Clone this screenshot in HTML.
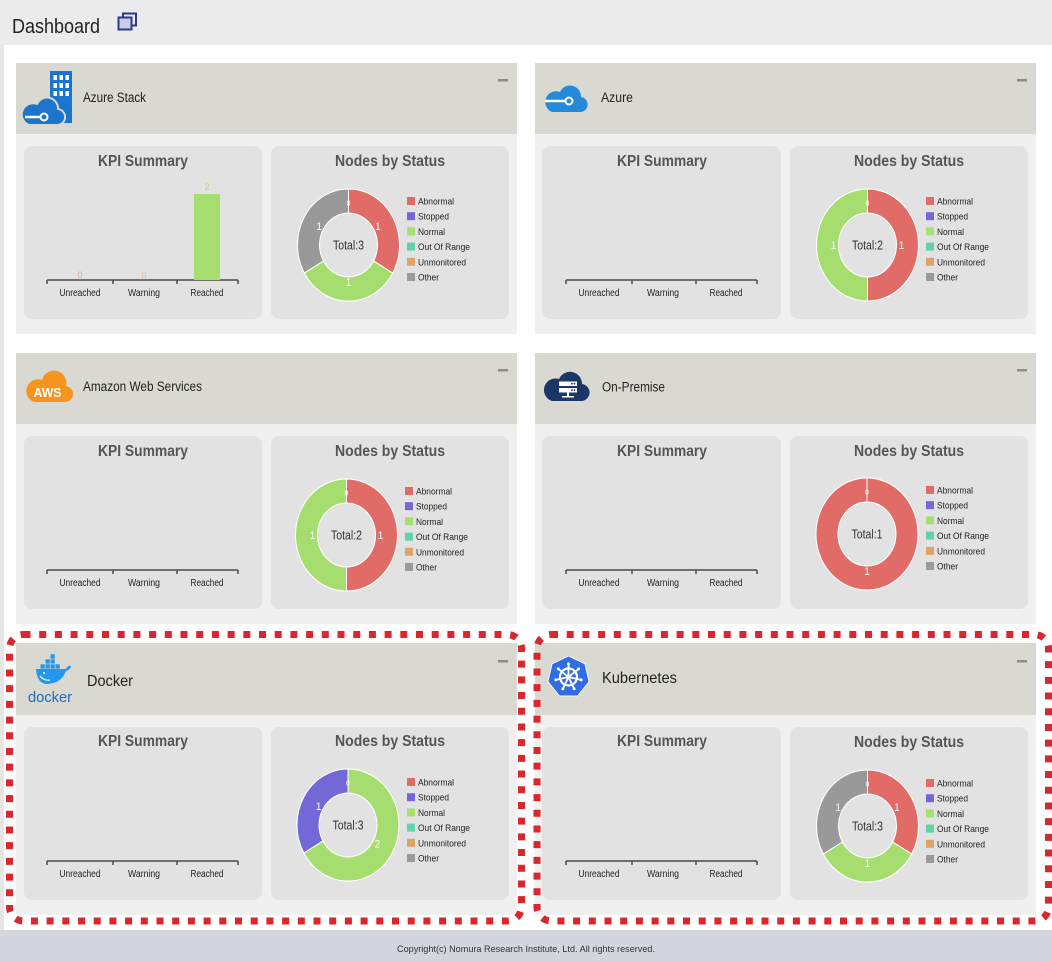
<!DOCTYPE html>
<html><head><meta charset="utf-8"><style>
html,body{margin:0;padding:0;background:#fff;width:1052px;height:962px;overflow:hidden}
svg{display:block}
text{font-family:"Liberation Sans",Arial,sans-serif}
</style></head><body>
<svg width="1052" height="962" viewBox="0 0 1052 962" xmlns="http://www.w3.org/2000/svg">
<rect x="0" y="0" width="1052" height="962" fill="#fff"/>
<!-- top bar -->
<rect x="0" y="0" width="1052" height="45" fill="#ebebeb"/>
<rect x="0" y="45" width="4" height="885" fill="#e6e6e6"/>
<text x="12" y="33" font-size="20" fill="#222" textLength="88" lengthAdjust="spacingAndGlyphs">Dashboard</text>
<rect x="123" y="13.5" width="13" height="12" fill="none" stroke="#2a3990" stroke-width="2"/>
<rect x="118.5" y="17.5" width="13" height="12" fill="#c9cde6" stroke="#2a3990" stroke-width="2"/>

<!-- ================= P1 Azure Stack ================= -->
<g>
<rect x="16" y="63" width="501" height="71" fill="#d9d9d1"/>
<rect x="16" y="134" width="501" height="200" fill="#f0f0f0"/>
<rect x="498" y="79" width="10" height="2.5" fill="#8e8e7e"/>
<rect x="24" y="146" width="238" height="173" rx="8" fill="#e2e2e2"/>
<rect x="271" y="146" width="238" height="173" rx="8" fill="#e2e2e2"/>
<text x="143" y="166" text-anchor="middle" font-size="16" font-weight="bold" fill="#555" textLength="90" lengthAdjust="spacingAndGlyphs">KPI Summary</text>
<text x="390" y="166" text-anchor="middle" font-size="16" font-weight="bold" fill="#555" textLength="110" lengthAdjust="spacingAndGlyphs">Nodes by Status</text>
<path d="M47 280H238M47 280v4M113 280v4M177 280v4M238 280v4" stroke="#4a4a4a" stroke-width="1.5" fill="none"/>
<g font-size="10" fill="#222" text-anchor="middle">
<text x="80" y="296" textLength="41" lengthAdjust="spacingAndGlyphs">Unreached</text>
<text x="144" y="296" textLength="32" lengthAdjust="spacingAndGlyphs">Warning</text>
<text x="207" y="296" textLength="33" lengthAdjust="spacingAndGlyphs">Reached</text>
</g>
<rect x="194" y="194" width="26" height="86" fill="#a6dd6f"/>
<text x="207" y="190" font-size="9" fill="#a6dd6f" text-anchor="middle">2</text>
<text x="80" y="278" font-size="9" fill="#e89a90" text-anchor="middle">0</text>
<text x="144" y="278" font-size="9" fill="#f0c08a" text-anchor="middle">0</text>
<g font-size="9.5" fill="#222">
<rect x="407" y="197" width="8" height="8" fill="#e06b67"/><text x="418" y="204.5" textLength="36" lengthAdjust="spacingAndGlyphs">Abnormal</text>
<rect x="407" y="212.2" width="8" height="8" fill="#7468d9"/><text x="418" y="219.7" textLength="31" lengthAdjust="spacingAndGlyphs">Stopped</text>
<rect x="407" y="227.4" width="8" height="8" fill="#a7df72"/><text x="418" y="234.9" textLength="27" lengthAdjust="spacingAndGlyphs">Normal</text>
<rect x="407" y="242.6" width="8" height="8" fill="#62d2a8"/><text x="418" y="250.1" textLength="52" lengthAdjust="spacingAndGlyphs">Out Of Range</text>
<rect x="407" y="257.8" width="8" height="8" fill="#dca466"/><text x="418" y="265.3" textLength="48" lengthAdjust="spacingAndGlyphs">Unmonitored</text>
<rect x="407" y="273" width="8" height="8" fill="#9a9a9a"/><text x="418" y="280.5" textLength="21" lengthAdjust="spacingAndGlyphs">Other</text>
</g>
<g transform="translate(348.5 245) scale(1 1.1)">
<g stroke="#fff" stroke-width="1">
<path d="M0,-51A51,51 0 0 1 44.17,25.5L25.11,14.5A29,29 0 0 0 0,-29Z" fill="#e06b67"/>
<path d="M44.17,25.5A51,51 0 0 1 -44.17,25.5L-25.11,14.5A29,29 0 0 0 25.11,14.5Z" fill="#a6dd6f"/>
<path d="M-44.17,25.5A51,51 0 0 1 0,-51L0,-29A29,29 0 0 0 -25.11,14.5Z" fill="#999"/>
</g>
<g font-size="10" fill="#fff" text-anchor="middle">
<text x="29.4" y="-13.5">1</text><text x="0" y="37.5">1</text><text x="-29.4" y="-13.5">1</text>
<text x="0" y="-36" font-size="7">0</text>
</g>
<text x="0" y="4" font-size="12" fill="#333" text-anchor="middle" textLength="31" lengthAdjust="spacingAndGlyphs">Total:3</text>
</g>
<text x="83" y="102" font-size="13.5" fill="#222" textLength="63" lengthAdjust="spacingAndGlyphs">Azure Stack</text>
<rect x="50" y="71" width="22" height="52" fill="#1b75cc"/>
<g fill="#fff">
<rect x="53.5" y="75" width="3.5" height="5"/><rect x="59.5" y="75" width="3.5" height="5"/><rect x="65.5" y="75" width="3.5" height="5"/>
<rect x="53.5" y="83" width="3.5" height="5"/><rect x="59.5" y="83" width="3.5" height="5"/><rect x="65.5" y="83" width="3.5" height="5"/>
<rect x="53.5" y="91" width="3.5" height="5"/><rect x="59.5" y="91" width="3.5" height="5"/><rect x="65.5" y="91" width="3.5" height="5"/>
</g>
<path d="M29,125H56A8,8 0 0 0 58,109A11,11 0 0 0 37,104A9,9 0 0 0 29,125Z" fill="#1b75cc" stroke="#d9d9d1" stroke-width="2"/>
<path d="M25,117H40" stroke="#fff" stroke-width="2.5"/>
<circle cx="44" cy="117" r="3.5" fill="#1b75cc" stroke="#fff" stroke-width="2"/>
</g>

<!-- ================= P2 Azure ================= -->
<g transform="translate(519 0)">
<rect x="16" y="63" width="501" height="71" fill="#d9d9d1"/>
<rect x="16" y="134" width="501" height="200" fill="#f0f0f0"/>
<rect x="498" y="79" width="10" height="2.5" fill="#8e8e7e"/>
<rect x="23" y="146" width="239" height="173" rx="8" fill="#e2e2e2"/>
<rect x="271" y="146" width="238" height="173" rx="8" fill="#e2e2e2"/>
<text x="143" y="166" text-anchor="middle" font-size="16" font-weight="bold" fill="#555" textLength="90" lengthAdjust="spacingAndGlyphs">KPI Summary</text>
<text x="390" y="166" text-anchor="middle" font-size="16" font-weight="bold" fill="#555" textLength="110" lengthAdjust="spacingAndGlyphs">Nodes by Status</text>
<path d="M47 280H238M47 280v4M113 280v4M177 280v4M238 280v4" stroke="#4a4a4a" stroke-width="1.5" fill="none"/>
<g font-size="10" fill="#222" text-anchor="middle">
<text x="80" y="296" textLength="41" lengthAdjust="spacingAndGlyphs">Unreached</text>
<text x="144" y="296" textLength="32" lengthAdjust="spacingAndGlyphs">Warning</text>
<text x="207" y="296" textLength="33" lengthAdjust="spacingAndGlyphs">Reached</text>
</g>
<g font-size="9.5" fill="#222">
<rect x="407" y="197" width="8" height="8" fill="#e06b67"/><text x="418" y="204.5" textLength="36" lengthAdjust="spacingAndGlyphs">Abnormal</text>
<rect x="407" y="212.2" width="8" height="8" fill="#7468d9"/><text x="418" y="219.7" textLength="31" lengthAdjust="spacingAndGlyphs">Stopped</text>
<rect x="407" y="227.4" width="8" height="8" fill="#a7df72"/><text x="418" y="234.9" textLength="27" lengthAdjust="spacingAndGlyphs">Normal</text>
<rect x="407" y="242.6" width="8" height="8" fill="#62d2a8"/><text x="418" y="250.1" textLength="52" lengthAdjust="spacingAndGlyphs">Out Of Range</text>
<rect x="407" y="257.8" width="8" height="8" fill="#dca466"/><text x="418" y="265.3" textLength="48" lengthAdjust="spacingAndGlyphs">Unmonitored</text>
<rect x="407" y="273" width="8" height="8" fill="#9a9a9a"/><text x="418" y="280.5" textLength="21" lengthAdjust="spacingAndGlyphs">Other</text>
</g>
<g transform="translate(348.5 245) scale(1 1.1)">
<g stroke="#fff" stroke-width="1">
<path d="M0,-51A51,51 0 0 1 0,51L0,29A29,29 0 0 0 0,-29Z" fill="#e06b67"/>
<path d="M0,51A51,51 0 0 1 0,-51L0,-29A29,29 0 0 0 0,29Z" fill="#a6dd6f"/>
</g>
<g font-size="10" fill="#fff" text-anchor="middle">
<text x="34" y="3.5">1</text><text x="-34" y="3.5">1</text>
<text x="0" y="-36" font-size="7">0</text>
</g>
<text x="0" y="4" font-size="12" fill="#333" text-anchor="middle" textLength="31" lengthAdjust="spacingAndGlyphs">Total:2</text>
</g>
<text x="82" y="102" font-size="13.5" fill="#222" textLength="32" lengthAdjust="spacingAndGlyphs">Azure</text>
<path d="M33,112H60A7.5,7.5 0 0 0 62,97A11,11 0 0 0 41,92A8,8 0 0 0 33,112Z" fill="#2389d8"/>
<path d="M26,101H46" stroke="#fff" stroke-width="2.5"/>
<circle cx="50" cy="101" r="3.5" fill="#2389d8" stroke="#fff" stroke-width="2"/>
</g>

<!-- ================= P3 AWS ================= -->
<g transform="translate(0 290)">
<rect x="16" y="63" width="501" height="71" fill="#d9d9d1"/>
<rect x="16" y="134" width="501" height="200" fill="#f0f0f0"/>
<rect x="498" y="79" width="10" height="2.5" fill="#8e8e7e"/>
<rect x="24" y="146" width="238" height="173" rx="8" fill="#e2e2e2"/>
<rect x="271" y="146" width="238" height="173" rx="8" fill="#e2e2e2"/>
<text x="143" y="166" text-anchor="middle" font-size="16" font-weight="bold" fill="#555" textLength="90" lengthAdjust="spacingAndGlyphs">KPI Summary</text>
<text x="390" y="166" text-anchor="middle" font-size="16" font-weight="bold" fill="#555" textLength="110" lengthAdjust="spacingAndGlyphs">Nodes by Status</text>
<path d="M47 280H238M47 280v4M113 280v4M177 280v4M238 280v4" stroke="#4a4a4a" stroke-width="1.5" fill="none"/>
<g font-size="10" fill="#222" text-anchor="middle">
<text x="80" y="296" textLength="41" lengthAdjust="spacingAndGlyphs">Unreached</text>
<text x="144" y="296" textLength="32" lengthAdjust="spacingAndGlyphs">Warning</text>
<text x="207" y="296" textLength="33" lengthAdjust="spacingAndGlyphs">Reached</text>
</g>
<g font-size="9.5" fill="#222">
<rect x="405" y="197" width="8" height="8" fill="#e06b67"/><text x="416" y="204.5" textLength="36" lengthAdjust="spacingAndGlyphs">Abnormal</text>
<rect x="405" y="212.2" width="8" height="8" fill="#7468d9"/><text x="416" y="219.7" textLength="31" lengthAdjust="spacingAndGlyphs">Stopped</text>
<rect x="405" y="227.4" width="8" height="8" fill="#a7df72"/><text x="416" y="234.9" textLength="27" lengthAdjust="spacingAndGlyphs">Normal</text>
<rect x="405" y="242.6" width="8" height="8" fill="#62d2a8"/><text x="416" y="250.1" textLength="52" lengthAdjust="spacingAndGlyphs">Out Of Range</text>
<rect x="405" y="257.8" width="8" height="8" fill="#dca466"/><text x="416" y="265.3" textLength="48" lengthAdjust="spacingAndGlyphs">Unmonitored</text>
<rect x="405" y="273" width="8" height="8" fill="#9a9a9a"/><text x="416" y="280.5" textLength="21" lengthAdjust="spacingAndGlyphs">Other</text>
</g>
<g transform="translate(346.5 245) scale(1 1.1)">
<g stroke="#fff" stroke-width="1">
<path d="M0,-51A51,51 0 0 1 0,51L0,29A29,29 0 0 0 0,-29Z" fill="#e06b67"/>
<path d="M0,51A51,51 0 0 1 0,-51L0,-29A29,29 0 0 0 0,29Z" fill="#a6dd6f"/>
</g>
<g font-size="10" fill="#fff" text-anchor="middle">
<text x="34" y="3.5">1</text><text x="-34" y="3.5">1</text>
<text x="0" y="-36" font-size="7">0</text>
</g>
<text x="0" y="4" font-size="12" fill="#333" text-anchor="middle" textLength="31" lengthAdjust="spacingAndGlyphs">Total:2</text>
</g>
<text x="83" y="101" font-size="13.5" fill="#222" textLength="119" lengthAdjust="spacingAndGlyphs">Amazon Web Services</text>
<path d="M34,112H64A8,8 0 0 0 66,96A12,12 0 0 0 42,90A9,9 0 0 0 34,112Z" fill="#f7941d"/>
<text x="47.5" y="107" font-size="12.5" font-weight="bold" fill="#fff" text-anchor="middle" textLength="28" lengthAdjust="spacingAndGlyphs">AWS</text>
</g>

<!-- ================= P4 On-Premise ================= -->
<g transform="translate(519 290)">
<rect x="16" y="63" width="501" height="71" fill="#d9d9d1"/>
<rect x="16" y="134" width="501" height="200" fill="#f0f0f0"/>
<rect x="498" y="79" width="10" height="2.5" fill="#8e8e7e"/>
<rect x="23" y="146" width="239" height="173" rx="8" fill="#e2e2e2"/>
<rect x="271" y="146" width="238" height="173" rx="8" fill="#e2e2e2"/>
<text x="143" y="166" text-anchor="middle" font-size="16" font-weight="bold" fill="#555" textLength="90" lengthAdjust="spacingAndGlyphs">KPI Summary</text>
<text x="390" y="166" text-anchor="middle" font-size="16" font-weight="bold" fill="#555" textLength="110" lengthAdjust="spacingAndGlyphs">Nodes by Status</text>
<path d="M47 280H238M47 280v4M113 280v4M177 280v4M238 280v4" stroke="#4a4a4a" stroke-width="1.5" fill="none"/>
<g font-size="10" fill="#222" text-anchor="middle">
<text x="80" y="296" textLength="41" lengthAdjust="spacingAndGlyphs">Unreached</text>
<text x="144" y="296" textLength="32" lengthAdjust="spacingAndGlyphs">Warning</text>
<text x="207" y="296" textLength="33" lengthAdjust="spacingAndGlyphs">Reached</text>
</g>
<g font-size="9.5" fill="#222">
<rect x="407" y="196" width="8" height="8" fill="#e06b67"/><text x="418" y="203.5" textLength="36" lengthAdjust="spacingAndGlyphs">Abnormal</text>
<rect x="407" y="211.2" width="8" height="8" fill="#7468d9"/><text x="418" y="218.7" textLength="31" lengthAdjust="spacingAndGlyphs">Stopped</text>
<rect x="407" y="226.4" width="8" height="8" fill="#a7df72"/><text x="418" y="233.9" textLength="27" lengthAdjust="spacingAndGlyphs">Normal</text>
<rect x="407" y="241.6" width="8" height="8" fill="#62d2a8"/><text x="418" y="249.1" textLength="52" lengthAdjust="spacingAndGlyphs">Out Of Range</text>
<rect x="407" y="256.8" width="8" height="8" fill="#dca466"/><text x="418" y="264.3" textLength="48" lengthAdjust="spacingAndGlyphs">Unmonitored</text>
<rect x="407" y="272" width="8" height="8" fill="#9a9a9a"/><text x="418" y="279.5" textLength="21" lengthAdjust="spacingAndGlyphs">Other</text>
</g>
<g transform="translate(348 244) scale(1 1.1)">
<path d="M0,-51A51,51 0 1 1 0,51A51,51 0 1 1 0,-51ZM0,-29A29,29 0 1 0 0,29A29,29 0 1 0 0,-29Z" fill="#e06b67" fill-rule="evenodd" stroke="#fff" stroke-width="1"/>
<path d="M0,-51V-29" stroke="#fff" stroke-width="1"/>
<g font-size="10" fill="#fff" text-anchor="middle">
<text x="0" y="37.5">1</text>
<text x="0" y="-36" font-size="7">0</text>
</g>
<text x="0" y="4" font-size="12" fill="#333" text-anchor="middle" textLength="31" lengthAdjust="spacingAndGlyphs">Total:1</text>
</g>
<text x="83" y="101.5" font-size="13.5" fill="#222" textLength="63" lengthAdjust="spacingAndGlyphs">On-Premise</text>
<path d="M33,111H61A8.5,8.5 0 0 0 63,94A12,12 0 0 0 40,89A9,9 0 0 0 33,111Z" fill="#1b3768"/>
<rect x="40" y="91.5" width="18" height="4.5" fill="#fff"/>
<rect x="40" y="98" width="18" height="4.5" fill="#fff"/>
<circle cx="53" cy="93.7" r="0.9" fill="#1b3768"/><circle cx="55.5" cy="93.7" r="0.9" fill="#1b3768"/>
<circle cx="53" cy="100.2" r="0.9" fill="#1b3768"/><circle cx="55.5" cy="100.2" r="0.9" fill="#1b3768"/>
<rect x="48" y="102.5" width="2" height="4" fill="#fff"/>
<rect x="43" y="106" width="12" height="1.5" fill="#fff"/>
</g>

<!-- ================= P5 Docker ================= -->
<g transform="translate(0 581)">
<rect x="16" y="62" width="501" height="72" fill="#d9d9d1"/>
<rect x="16" y="134" width="501" height="200" fill="#f0f0f0"/>
<rect x="498" y="79" width="10" height="2.5" fill="#8e8e7e"/>
<rect x="24" y="146" width="238" height="173" rx="8" fill="#e2e2e2"/>
<rect x="271" y="146" width="238" height="173" rx="8" fill="#e2e2e2"/>
<text x="143" y="165" text-anchor="middle" font-size="16" font-weight="bold" fill="#555" textLength="90" lengthAdjust="spacingAndGlyphs">KPI Summary</text>
<text x="390" y="165" text-anchor="middle" font-size="16" font-weight="bold" fill="#555" textLength="110" lengthAdjust="spacingAndGlyphs">Nodes by Status</text>
<path d="M47 280H238M47 280v4M113 280v4M177 280v4M238 280v4" stroke="#4a4a4a" stroke-width="1.5" fill="none"/>
<g font-size="10" fill="#222" text-anchor="middle">
<text x="80" y="296" textLength="41" lengthAdjust="spacingAndGlyphs">Unreached</text>
<text x="144" y="296" textLength="32" lengthAdjust="spacingAndGlyphs">Warning</text>
<text x="207" y="296" textLength="33" lengthAdjust="spacingAndGlyphs">Reached</text>
</g>
<g font-size="9.5" fill="#222">
<rect x="407" y="197" width="8" height="8" fill="#e06b67"/><text x="418" y="204.5" textLength="36" lengthAdjust="spacingAndGlyphs">Abnormal</text>
<rect x="407" y="212.2" width="8" height="8" fill="#7468d9"/><text x="418" y="219.7" textLength="31" lengthAdjust="spacingAndGlyphs">Stopped</text>
<rect x="407" y="227.4" width="8" height="8" fill="#a7df72"/><text x="418" y="234.9" textLength="27" lengthAdjust="spacingAndGlyphs">Normal</text>
<rect x="407" y="242.6" width="8" height="8" fill="#62d2a8"/><text x="418" y="250.1" textLength="52" lengthAdjust="spacingAndGlyphs">Out Of Range</text>
<rect x="407" y="257.8" width="8" height="8" fill="#dca466"/><text x="418" y="265.3" textLength="48" lengthAdjust="spacingAndGlyphs">Unmonitored</text>
<rect x="407" y="273" width="8" height="8" fill="#9a9a9a"/><text x="418" y="280.5" textLength="21" lengthAdjust="spacingAndGlyphs">Other</text>
</g>
<g transform="translate(348 244) scale(1 1.1)">
<g stroke="#fff" stroke-width="1">
<path d="M0,-51A51,51 0 1 1 -44.17,25.5L-25.11,14.5A29,29 0 1 0 0,-29Z" fill="#a6dd6f"/>
<path d="M-44.17,25.5A51,51 0 0 1 0,-51L0,-29A29,29 0 0 0 -25.11,14.5Z" fill="#7468d9"/>
</g>
<g font-size="10" fill="#fff" text-anchor="middle">
<text x="29.4" y="20.5">2</text><text x="-29.4" y="-13.5">1</text>
<text x="0" y="-36" font-size="7">0</text>
</g>
<text x="0" y="4" font-size="12" fill="#333" text-anchor="middle" textLength="31" lengthAdjust="spacingAndGlyphs">Total:3</text>
</g>
<text x="87" y="105" font-size="16" fill="#222" textLength="46" lengthAdjust="spacingAndGlyphs">Docker</text>
<path d="M36,88H66Q68,84 71,85Q70,89 66,90Q61,103 46,103Q37,102 36,88Z" fill="#2496ed"/>
<g fill="#2496ed">
<rect x="40.5" y="83.3" width="4.3" height="4.3"/><rect x="45.5" y="83.3" width="4.3" height="4.3"/><rect x="50.5" y="83.3" width="4.3" height="4.3"/><rect x="55.5" y="83.3" width="4.3" height="4.3"/>
<rect x="45.5" y="78.3" width="4.3" height="4.3"/><rect x="50.5" y="78.3" width="4.3" height="4.3"/>
<rect x="50.5" y="73.3" width="4.3" height="4.3"/>
</g>
<path d="M40,95Q44,100 50,99" stroke="#fff" stroke-width="1.2" fill="none"/>
<circle cx="44" cy="92" r="1" fill="#fff"/>
<text x="28" y="121" font-size="15" fill="#1f6bbd" textLength="44" lengthAdjust="spacingAndGlyphs">docker</text>
</g>

<!-- ================= P6 Kubernetes ================= -->
<g transform="translate(519 581)">
<rect x="16" y="62" width="501" height="72" fill="#d9d9d1"/>
<rect x="16" y="134" width="501" height="200" fill="#f0f0f0"/>
<rect x="498" y="79" width="10" height="2.5" fill="#8e8e7e"/>
<rect x="23" y="146" width="239" height="173" rx="8" fill="#e2e2e2"/>
<rect x="271" y="146" width="238" height="173" rx="8" fill="#e2e2e2"/>
<text x="143" y="165" text-anchor="middle" font-size="16" font-weight="bold" fill="#555" textLength="90" lengthAdjust="spacingAndGlyphs">KPI Summary</text>
<text x="390" y="166" text-anchor="middle" font-size="16" font-weight="bold" fill="#555" textLength="110" lengthAdjust="spacingAndGlyphs">Nodes by Status</text>
<path d="M47 280H238M47 280v4M113 280v4M177 280v4M238 280v4" stroke="#4a4a4a" stroke-width="1.5" fill="none"/>
<g font-size="10" fill="#222" text-anchor="middle">
<text x="80" y="296" textLength="41" lengthAdjust="spacingAndGlyphs">Unreached</text>
<text x="144" y="296" textLength="32" lengthAdjust="spacingAndGlyphs">Warning</text>
<text x="207" y="296" textLength="33" lengthAdjust="spacingAndGlyphs">Reached</text>
</g>
<g font-size="9.5" fill="#222">
<rect x="407" y="198" width="8" height="8" fill="#e06b67"/><text x="418" y="205.5" textLength="36" lengthAdjust="spacingAndGlyphs">Abnormal</text>
<rect x="407" y="213.2" width="8" height="8" fill="#7468d9"/><text x="418" y="220.7" textLength="31" lengthAdjust="spacingAndGlyphs">Stopped</text>
<rect x="407" y="228.4" width="8" height="8" fill="#a7df72"/><text x="418" y="235.9" textLength="27" lengthAdjust="spacingAndGlyphs">Normal</text>
<rect x="407" y="243.6" width="8" height="8" fill="#62d2a8"/><text x="418" y="251.1" textLength="52" lengthAdjust="spacingAndGlyphs">Out Of Range</text>
<rect x="407" y="258.8" width="8" height="8" fill="#dca466"/><text x="418" y="266.3" textLength="48" lengthAdjust="spacingAndGlyphs">Unmonitored</text>
<rect x="407" y="274" width="8" height="8" fill="#9a9a9a"/><text x="418" y="281.5" textLength="21" lengthAdjust="spacingAndGlyphs">Other</text>
</g>
<g transform="translate(348.5 245) scale(1 1.1)">
<g stroke="#fff" stroke-width="1">
<path d="M0,-51A51,51 0 0 1 44.17,25.5L25.11,14.5A29,29 0 0 0 0,-29Z" fill="#e06b67"/>
<path d="M44.17,25.5A51,51 0 0 1 -44.17,25.5L-25.11,14.5A29,29 0 0 0 25.11,14.5Z" fill="#a6dd6f"/>
<path d="M-44.17,25.5A51,51 0 0 1 0,-51L0,-29A29,29 0 0 0 -25.11,14.5Z" fill="#999"/>
</g>
<g font-size="10" fill="#fff" text-anchor="middle">
<text x="29.4" y="-13.5">1</text><text x="0" y="37.5">1</text><text x="-29.4" y="-13.5">1</text>
<text x="0" y="-36" font-size="7">0</text>
</g>
<text x="0" y="4" font-size="12" fill="#333" text-anchor="middle" textLength="31" lengthAdjust="spacingAndGlyphs">Total:3</text>
</g>
<text x="83" y="102" font-size="16" fill="#222" textLength="75" lengthAdjust="spacingAndGlyphs">Kubernetes</text>
<g transform="translate(49.5 96)">
<path d="M0,-21L16.42,-13.09L20.47,4.67L9.11,18.92L-9.11,18.92L-20.47,4.67L-16.42,-13.09Z" fill="#326ce5" stroke="#fff" stroke-width="0.8" stroke-linejoin="round"/>
<circle cx="0" cy="0" r="8.5" fill="none" stroke="#fff" stroke-width="2.2"/>
<circle cx="0" cy="0" r="2.5" fill="#fff"/>
<path d="M0,0L0,-13M0,0L10.16,-8.1M0,0L12.67,2.89M0,0L5.64,11.71M0,0L-5.64,11.71M0,0L-12.67,2.89M0,0L-10.16,-8.1" stroke="#fff" stroke-width="1.8"/>
<g fill="#fff">
<circle cx="0" cy="-13" r="1.5"/><circle cx="10.16" cy="-8.1" r="1.5"/><circle cx="12.67" cy="2.89" r="1.5"/><circle cx="5.64" cy="11.71" r="1.5"/><circle cx="-5.64" cy="11.71" r="1.5"/><circle cx="-12.67" cy="2.89" r="1.5"/><circle cx="-10.16" cy="-8.1" r="1.5"/>
</g>
</g>
</g>

<!-- footer -->
<rect x="0" y="930" width="1052" height="32" fill="#d3d6de"/>
<text x="526" y="952" font-size="9.5" fill="#333" text-anchor="middle" textLength="258" lengthAdjust="spacingAndGlyphs">Copyright(c) Nomura Research Institute, Ltd. All rights reserved.</text>

<!-- red dotted highlight boxes -->
<rect x="9.5" y="634.5" width="512" height="286.5" rx="14" fill="none" stroke="#d9272e" stroke-width="7" stroke-dasharray="7 8.7"/>
<rect x="537" y="634.5" width="511.5" height="286.5" rx="14" fill="none" stroke="#d9272e" stroke-width="7" stroke-dasharray="7 8.7"/>
</svg>
</body></html>
